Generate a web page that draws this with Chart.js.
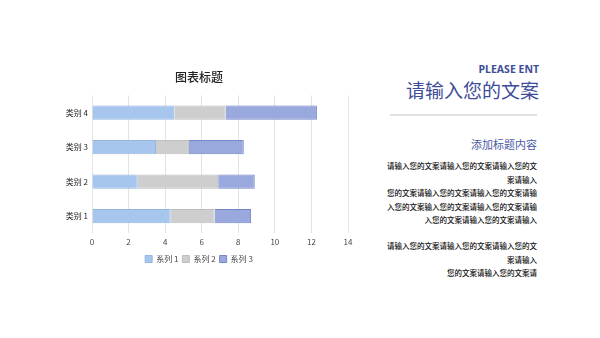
<!DOCTYPE html>
<html>
<head>
<meta charset="utf-8">
<script src="https://cdn.jsdelivr.net/npm/chart.js@4.4.0/dist/chart.umd.min.js"></script>
<style>
  body { margin: 0; width: 600px; height: 338px; background: #fff; position: relative; overflow: hidden;
         font-family: "Noto Sans CJK SC", "Noto Sans", sans-serif; }
  #wrap { position: absolute; left: 50px; top: 62px; width: 310px; height: 211px; }
  .r { position: absolute; right: 61px; text-align: right; white-space: nowrap; }
  #en { top: 62px; font-size: 10.5px; font-weight: bold; color: #3d4d98; font-family: "Open Sans", "Noto Sans", sans-serif; }
  #big { top: 76px; font-size: 19px; color: #3d4d98; }
  #rule { position: absolute; left: 390px; top: 114px; width: 147px; height: 2px; background: #e2e2e2; }
  #sub { top: 136px; right: 63px; font-size: 11px; color: #4a5aa6; }
  .p { right: 63px; font-size: 7.5px; color: #111; line-height: 13.5px; font-weight: 500; }
</style>
</head>
<body>
<div id="wrap"><canvas id="c"></canvas></div>
<div class="r" id="en">PLEASE ENT</div>
<div class="r" id="big">请输入您的文案</div>
<div id="rule"></div>
<div class="r" id="sub">添加标题内容</div>
<div class="r p" style="top:159px">请输入您的文案请输入您的文案请输入您的文<br>案请输入<br>您的文案请输入您的文案请输入您的文案请输<br>入您的文案输入您的文案请输入您的文案请输<br>入您的文案请输入您的文案请输入</div>
<div class="r p" style="top:239px">请输入您的文案请输入您的文案请输入您的文<br>案请输入<br>您的文案请输入您的文案请</div>
<script>
// data
const categories = ['类别 1', '类别 2', '类别 3', '类别 4'];
const series1 = [4.3, 2.5, 3.5, 4.5];
const series2 = [2.4, 4.4, 1.8, 2.8];
const series3 = [2.0, 2.0, 3.0, 5.0];
const xTicks = [0, 2, 4, 6, 8, 10, 12, 14];

const font = { family: '"Noto Sans CJK SC", sans-serif', size: 8 };

new Chart(document.getElementById('c').getContext('2d'), {
    type: 'bar',
    data: {
        labels: categories,
        datasets: [
            { label: '系列 1', data: series1, backgroundColor: '#a7c6ed', borderColor: '#92b5e2', borderWidth: 1 },
            { label: '系列 2', data: series2, backgroundColor: '#cecece', borderColor: '#bebebe', borderWidth: 1 },
            { label: '系列 3', data: series3, backgroundColor: '#99a9de', borderColor: '#7485c8', borderWidth: 1 }
        ]
    },
    options: {
        indexAxis: 'y',
        responsive: true,
        maintainAspectRatio: false,
        animation: false,
        datasets: { bar: { categoryPercentage: 1, barPercentage: 0.41 } },
        layout: { padding: { left: 0, right: 12, top: 0, bottom: 0 } },
        scales: {
            x: {
                stacked: true,
                min: 0,
                max: 14,
                afterBuildTicks: (s) => { s.ticks = xTicks.map(v => ({ value: v })); },
                grid: { color: '#e3e3e3', drawTicks: false },
                border: { display: false },
                ticks: { color: '#444', font: font, padding: 4 }
            },
            y: {
                stacked: true,
                reverse: true,
                grid: { display: false, drawTicks: false },
                border: { display: false },
                ticks: { color: '#222', font: font, padding: 4 },
                afterFit: (s) => { s.width = 42; }
            }
        },
        plugins: {
            title: {
                display: true,
                text: '图表标题',
                color: '#222',
                font: { family: '"Noto Sans CJK SC", sans-serif', size: 12, weight: '500' },
                padding: { top: 8, bottom: 11 }
            },
            legend: {
                position: 'bottom',
                labels: { font: font, color: '#444', boxWidth: 7, boxHeight: 7, padding: 4 }
            },
            tooltip: { enabled: false }
        }
    }
});
</script>
</body>
</html>
